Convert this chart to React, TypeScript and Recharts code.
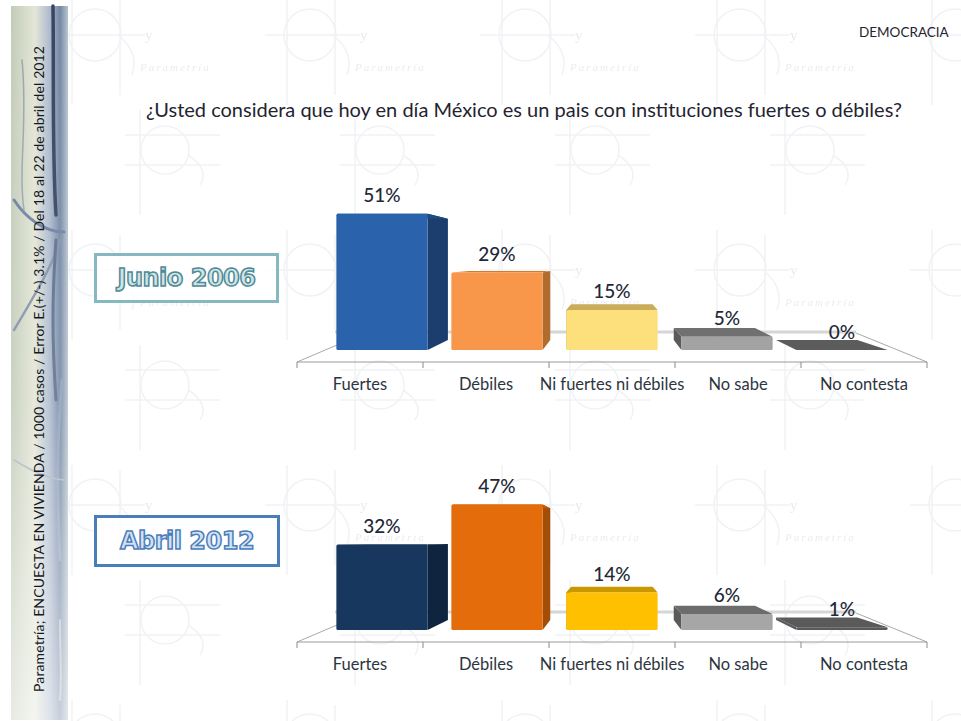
import React from "react";
import { BarChart, Bar, XAxis, YAxis, LabelList } from "recharts";

const categories = ["Fuertes", "Débiles", "Ni fuertes ni débiles", "No sabe", "No contesta"];
const junio2006 = [51, 29, 15, 5, 0];
const abril2012 = [32, 47, 14, 6, 1];

const frontJunio = ["#2a62ab", "#f8964a", "#fde07c", "#a3a3a3", "#5c5c5c"];
const sideJunio = ["#1b3e6e", "#b06c2c", "#bfa052", "#5a5a5a", "#5c5c5c"];
const topJunio = ["#1f4a82", "#d27a2e", "#c9ad5a", "#707070", "#5c5c5c"];
const frontAbril = ["#17375e", "#e46c0a", "#ffc000", "#a6a6a6", "#5a5a5a"];
const sideAbril = ["#0f243e", "#a34e08", "#bd8e05", "#5a5a5a", "#5a5a5a"];
const topAbril = ["#14304f", "#c25c08", "#c99700", "#6c6c6c", "#5a5a5a"];

const FONT = "Lato, 'Open Sans', sans-serif";
const VIEW_X = 612;
const VIEW_Y = 79;
const FRONT_SCALE = 0.9127;
const BACK_SCALE = 0.89;
const FLOOR_LIFT = 12;
const BAND = 126;

// the old 3D look: columns stand back from the axis and shrink toward a vanishing point
const projX = (x: number) => VIEW_X + (x - VIEW_X) * FRONT_SCALE;
const backX = (x: number) => VIEW_X + (x - VIEW_X) * BACK_SCALE;
const backY = (y: number) => VIEW_Y + (y - VIEW_Y) * BACK_SCALE;

const makeBar3D = (front: string[], side: string[], top: string[]) => (props: any) => {
  const { x, y, width, height, index } = props;
  const l = projX(x);
  const r = projX(x + width);
  const t = y - FLOOR_LIFT;
  const b = t + height;
  const sideX = r < VIEW_X ? r : l;
  const sidePts = `${sideX},${t} ${backX(sideX)},${backY(t)} ${backX(sideX)},${backY(b)} ${sideX},${b}`;
  const topPts = `${l},${t} ${r},${t} ${backX(r)},${backY(t)} ${backX(l)},${backY(t)}`;
  return (
    <g>
      <polygon points={sidePts} fill={side[index]} />
      <polygon points={topPts} fill={top[index]} />
      <rect x={l} y={t} width={r - l} height={height} fill={front[index]} rx={1.5} />
    </g>
  );
};

const valueLabel = (props: any) => {
  const { x, y, width, value } = props;
  return (
    <text
      x={projX(x + width / 2)}
      y={y - FLOOR_LIFT - 19}
      textAnchor="middle"
      dominantBaseline="central"
      fontFamily={FONT}
      fontSize={19}
      fontWeight={500}
      fill="#1f2937"
    >
      {value}%
    </text>
  );
};

const axisTick = (props: any) => {
  const { x, y, payload, index } = props;
  return (
    <g>
      <line x1={x - BAND / 2} x2={x - BAND / 2} y1={y - 8} y2={y - 2} stroke="#8a8a8a" />
      {index === categories.length - 1 && (
        <line x1={x + BAND / 2} x2={x + BAND / 2} y1={y - 8} y2={y - 2} stroke="#8a8a8a" />
      )}
      <text x={x} y={y + 14} textAnchor="middle" dominantBaseline="central" fontFamily={FONT} fontSize={16.5} fill="#2d3540">
        {payload.value}
      </text>
    </g>
  );
};

const Panel = ({ values, top, front, side, faces }: any) => {
  const rows = categories.map((name, i) => ({ name, value: values[i] }));
  return (
    <div style={{ position: "absolute", left: 0, top }}>
      <BarChart width={961} height={222} data={rows} margin={{ top: 23, right: 34, left: 297, bottom: 0 }} barSize={100}>
        <XAxis
          dataKey="name"
          interval={0}
          height={40}
          tickLine={false}
          axisLine={{ stroke: "#9a9a9a" }}
          tick={axisTick}
        />
        <YAxis hide domain={[0, 59.5]} />
        <Bar dataKey="value" isAnimationActive={false} shape={makeBar3D(front, side, faces)}>
          <LabelList dataKey="value" content={valueLabel} />
        </Bar>
      </BarChart>
    </div>
  );
};

const Floor = ({ dy }: { dy: number }) => (
  <g transform={`translate(0 ${dy})`} fill="none">
    <line x1={335} y1={332} x2={856} y2={332} stroke="#d6d6d6" strokeWidth={3} />
    <line x1={297} y1={362} x2={337} y2={345} stroke="#a8a8a8" />
    <line x1={927} y1={362} x2={856} y2={333} stroke="#a8a8a8" />
  </g>
);

const Tag = ({ text, top, height, left, width, stroke, fill, outline }: any) => (
  <div
    style={{
      position: "absolute",
      left,
      top,
      width,
      height,
      boxSizing: "border-box",
      border: `3px solid ${stroke}`,
      background: "#ffffffcc",
      display: "flex",
      alignItems: "center",
      justifyContent: "center",
      fontFamily: "'DejaVu Sans', sans-serif",
      fontWeight: 700,
      fontSize: 24,
      letterSpacing: -0.5,
      color: fill,
      WebkitTextStroke: `1.5px ${outline}`,
    }}
  >
    {text}
  </div>
);

const Backdrop = () => (
  <svg width={961} height={721} style={{ position: "absolute", left: 0, top: 0 }}>
    <defs>
      <pattern id="wm" width={215} height={235} patternUnits="userSpaceOnUse" x={40} y={-5}>
        <g fill="none" stroke="#f0f2f5" strokeWidth={1.5}>
          <circle cx={55} cy={40} r={26} />
          <line x1={10} y1={40} x2={105} y2={40} />
          <line x1={32} y1={0} x2={32} y2={110} />
          <line x1={80} y1={5} x2={80} y2={100} />
          <path d="M78 40 q22 18 14 40" />
          <circle cx={125} cy={155} r={24} />
          <line x1={85} y1={140} x2={180} y2={140} />
          <line x1={85} y1={170} x2={180} y2={170} />
          <line x1={100} y1={115} x2={100} y2={220} />
          <path d="M148 160 q22 14 12 30" />
        </g>
        <text x={100} y={76} fontFamily="serif" fontStyle="italic" fontSize={11} letterSpacing={2} fill="#e9ecf0">
          Parametría
        </text>
        <text x={105} y={45} fontFamily="serif" fontSize={15} fill="#e8ebef">y</text>
      </pattern>
      <linearGradient id="strip" x1="0" x2="1" y1="0" y2="0">
        <stop offset="0" stopColor="#c3ccb9" />
        <stop offset="0.42" stopColor="#e3e6d6" />
        <stop offset="0.68" stopColor="#aebbcf" />
        <stop offset="0.86" stopColor="#7488a4" />
        <stop offset="1" stopColor="#b9c6cf" />
      </linearGradient>
      <linearGradient id="fade" x1="0" x2="0" y1="0" y2="1">
        <stop offset="0" stopColor="#fff" stopOpacity={0} />
        <stop offset="0.55" stopColor="#fff" stopOpacity={0.12} />
        <stop offset="1" stopColor="#fff" stopOpacity={0.6} />
      </linearGradient>
    </defs>
    <rect x={40} y={0} width={921} height={721} fill="url(#wm)" />
    <rect x={11} y={6} width={57} height={714} fill="url(#strip)" />
    <g fill="none" strokeLinecap="round">
      <path d="M53 6 C54 80 52 150 56 215" stroke="#3a4660" strokeWidth={3.5} />
      <path d="M14 200 C26 218 44 232 64 232" stroke="#6f82a3" strokeWidth={3} />
      <path d="M62 236 C54 262 38 290 14 330" stroke="#8593a8" strokeWidth={2.5} />
      <path d="M56 240 C52 300 52 340 56 400" stroke="#5f6f8e" strokeWidth={3} />
      <path d="M62 380 C58 430 56 470 60 560" stroke="#8fa0b8" strokeWidth={3} />
      <path d="M14 460 C30 470 50 480 66 480" stroke="#a9b4c0" strokeWidth={1.5} />
      <path d="M22 60 C28 120 18 170 24 210" stroke="#9aa7b0" strokeWidth={1.5} />
      <path d="M60 620 C60 650 62 680 60 700" stroke="#b4bfcc" strokeWidth={2} />
    </g>
    <rect x={11} y={6} width={57} height={714} fill="url(#fade)" />
    <Floor dy={0} />
    <Floor dy={280} />
  </svg>
);

export default function App() {
  return (
    <div style={{ position: "absolute", left: 0, top: 0, width: 961, height: 721, overflow: "hidden", background: "#fff" }}>
      <Backdrop />
      <svg width={70} height={721} style={{ position: "absolute", left: 0, top: 0 }}>
        <text
          transform="translate(44 692) rotate(-90)"
          fontFamily={FONT}
          fontSize={14}
          fill="#14181f"
          textLength={646}
          lengthAdjust="spacing"
        >
          Parametría; ENCUESTA EN VIVIENDA / 1000 casos / Error E.(+/-) 3.1% / Del 18 al 22 de abril del 2012
        </text>
      </svg>
      <div
        style={{
          position: "absolute",
          left: 146,
          top: 97,
          fontFamily: FONT,
          fontSize: 20,
          color: "#1f2430",
          whiteSpace: "nowrap",
        }}
      >
        ¿Usted considera que hoy en día México es un pais con instituciones fuertes o débiles?
      </div>
      <div style={{ position: "absolute", left: 859, top: 24, fontFamily: FONT, fontSize: 13.5, color: "#1f2430" }}>
        DEMOCRACIA
      </div>
      <Tag text="Junio 2006" left={94} top={253} width={185} height={50} stroke="#86b8c0" fill="#cfe4e6" outline="#4f8a96" />
      <Tag text="Abril 2012" left={94} top={515} width={186} height={52} stroke="#4a7ebb" fill="#d3e1f2" outline="#4a7ebb" />
      <Panel values={junio2006} top={180} front={frontJunio} side={sideJunio} faces={topJunio} />
      <Panel values={abril2012} top={460} front={frontAbril} side={sideAbril} faces={topAbril} />
    </div>
  );
}
